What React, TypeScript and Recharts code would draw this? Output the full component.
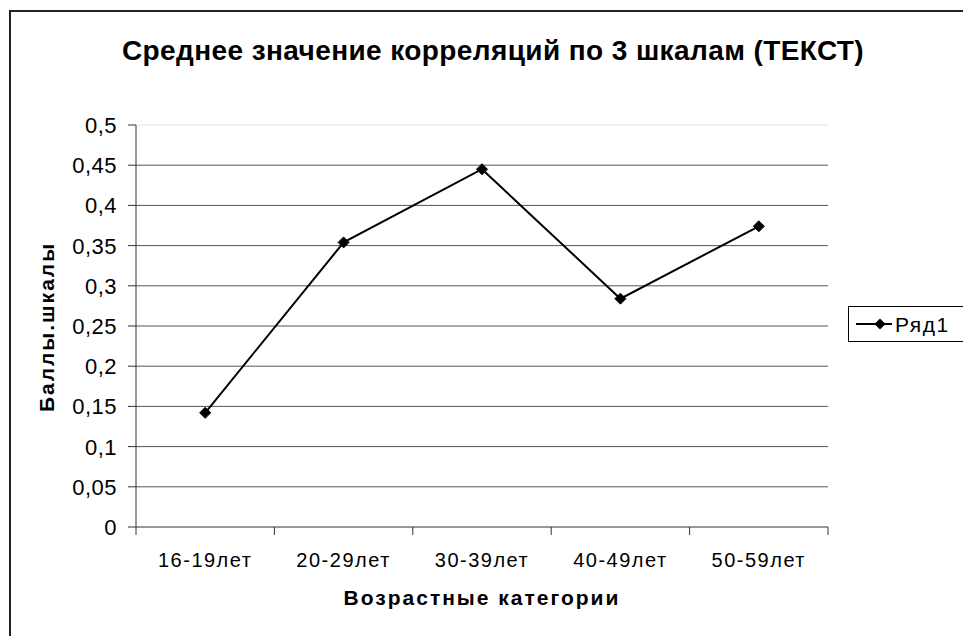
import React from 'react';
import { LineChart, Line, XAxis, YAxis, CartesianGrid, ReferenceLine, Legend } from 'recharts';

const categories = ['16-19лет', '20-29лет', '30-39лет', '40-49лет', '50-59лет'];
const series1 = [0.142, 0.354, 0.445, 0.284, 0.374];
const yTicks = [0, 0.05, 0.1, 0.15, 0.2, 0.25, 0.3, 0.35, 0.4, 0.45, 0.5];
const yTickLabels = ['0', '0,05', '0,1', '0,15', '0,2', '0,25', '0,3', '0,35', '0,4', '0,45', '0,5'];
const gridValues = [0.05, 0.1, 0.15, 0.2, 0.25, 0.3, 0.35, 0.4, 0.45];
const seriesName = 'Ряд1';
const chartTitle = 'Среднее значение корреляций по 3 шкалам (ТЕКСТ)';
const xTitle = 'Возрастные категории';
const yTitle = 'Баллы.шкалы';

const data = categories.map((c, i) => ({ category: c, value: series1[i] }));

const FONT = '"Liberation Sans", Arial, sans-serif';
const AXIS = '#333';
const GRID = '#555';

const Diamond = (props: any) => {
  const { cx, cy } = props;
  if (cx == null || cy == null) return null;
  const r = 5.5;
  return <path d={`M${cx},${cy - r}L${cx + r},${cy}L${cx},${cy + r}L${cx - r},${cy}Z`} fill="#000" stroke="#000" />;
};

const YTick = (props: any) => {
  const { x, y, payload } = props;
  const i = yTicks.indexOf(payload.value);
  return (
    <text x={x} y={y} dx={-9} dy={8} textAnchor="end" fontFamily={FONT} fontSize={22} letterSpacing={0.5} fill="#000">
      {yTickLabels[i]}
    </text>
  );
};

const XTick = (props: any) => {
  const { x, y, payload, index, visibleTicksCount } = props;
  const half = payload.offset || 0;
  return (
    <g>
      <line x1={x - half} y1={y - 10} x2={x - half} y2={y - 2} stroke={AXIS} strokeWidth={1} />
      {index === visibleTicksCount - 1 && (
        <line x1={x + half} y1={y - 10} x2={x + half} y2={y - 2} stroke={AXIS} strokeWidth={1} />
      )}
      <text x={x} y={y} dy={30} textAnchor="middle" fontFamily={FONT} fontSize={20} fill="#000" letterSpacing={1.5}>
        {payload.value}
      </text>
    </g>
  );
};

const LegendContent = () => (
  <div style={{ width: 130, height: 36, border: '1px solid #000', background: '#fff', boxSizing: 'border-box', position: 'relative' }}>
    <svg width={130} height={36} style={{ position: 'absolute', left: -1, top: -1 }}>
      <line x1={8} y1={18} x2={44} y2={18} stroke="#000" strokeWidth={2} />
      <path d="M32,12.5L37.5,18L32,23.5L26.5,18Z" fill="#000" />
      <text x={47} y={26} fontFamily={FONT} fontSize={21} letterSpacing={1.5} fill="#000">{seriesName}</text>
    </svg>
  </div>
);

export default function App() {
  return (
    <div style={{ position: 'absolute', left: 0, top: 0, width: 963, height: 636, overflow: 'hidden', background: '#fff' }}>
      <div style={{ position: 'absolute', left: 9, top: 10, width: 1000, height: 700, border: '2px solid #222', boxSizing: 'border-box' }} />
      <div style={{ position: 'absolute', left: 0, top: 0 }}>
        <LineChart width={963} height={636} data={data} margin={{ top: 125, right: 135, bottom: 69, left: 66 }}>
          <CartesianGrid horizontal vertical={false} horizontalValues={gridValues} stroke={GRID} strokeWidth={1} />
          <ReferenceLine y={0.5} stroke="#e4e4e4" strokeWidth={1} />
          <XAxis
            dataKey="category"
            scale="band"
            height={40}
            stroke={AXIS}
            axisLine={{ stroke: AXIS, strokeWidth: 1 }}
            tickLine={false}
            tickSize={8}
            tick={<XTick />}
            interval={0}
          />
          <YAxis
            type="number"
            domain={[0, 0.5]}
            ticks={yTicks}
            width={70}
            stroke={AXIS}
            tickLine={{ stroke: AXIS, strokeWidth: 1 }}
            tickSize={8}
            tick={<YTick />}
            interval={0}
          />
          <Legend
            layout="horizontal"
            verticalAlign="middle"
            align="center"
            wrapperStyle={{ position: 'absolute', left: 848, top: 306, width: 130, height: 36 }}
            content={<LegendContent />}
          />
          <Line
            dataKey="value"
            name={seriesName}
            stroke="#000"
            strokeWidth={2}
            dot={<Diamond />}
            activeDot={false}
            isAnimationActive={false}
          />
        </LineChart>
      </div>
      <div style={{ position: 'absolute', left: 0, width: 986, top: 36, textAlign: 'center', fontFamily: FONT, fontWeight: 'bold', fontSize: 28, lineHeight: '30px', letterSpacing: 0.4, color: '#000', whiteSpace: 'nowrap' }}>
        {chartTitle}
      </div>
      <div style={{ position: 'absolute', left: 282, width: 400, top: 586, textAlign: 'center', fontFamily: FONT, fontWeight: 'bold', fontSize: 21, lineHeight: '24px', letterSpacing: 2, color: '#000', whiteSpace: 'nowrap' }}>
        {xTitle}
      </div>
      <div style={{ position: 'absolute', left: 47, top: 327, width: 0, height: 0 }}>
        <div style={{ position: 'absolute', left: -100, top: -12, width: 200, textAlign: 'center', transform: 'rotate(-90deg)', fontFamily: FONT, fontWeight: 'bold', fontSize: 21, lineHeight: '24px', letterSpacing: 2, color: '#000', whiteSpace: 'nowrap' }}>
          {yTitle}
        </div>
      </div>
    </div>
  );
}
